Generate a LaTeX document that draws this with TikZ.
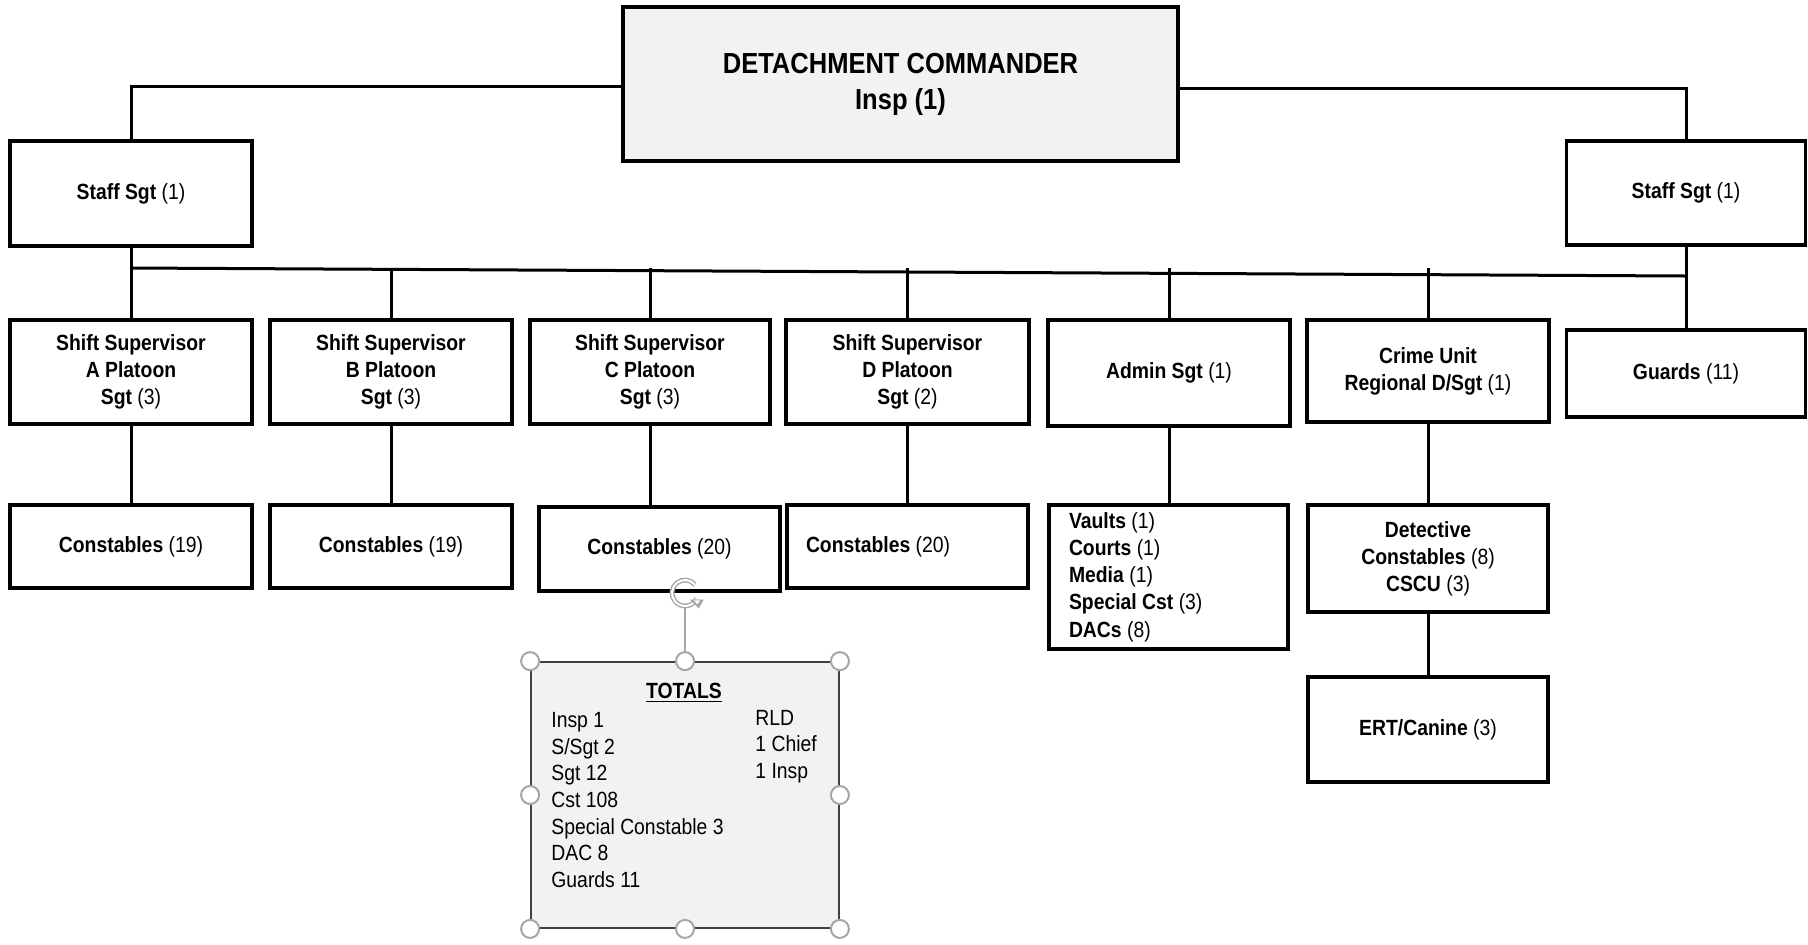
\documentclass[tikz,border=0pt]{standalone}
\usepackage{fontspec}
\setmainfont{Liberation Sans}[FakeStretch=0.88]
\usetikzlibrary{arrows.meta,calc}
\definecolor{dcfill}{HTML}{F2F2F2}
\definecolor{totfill}{HTML}{F2F2F2}
\definecolor{handlegray}{HTML}{A6A6A6}
\begin{document}
\begin{tikzpicture}[x=0.5pt,y=-0.5pt,
  box/.style={draw, line width=1.7pt, inner sep=0pt, align=center, font=\fontsize{11}{13.6}\selectfont},
  conn/.style={line width=1.5pt},
  handle/.style={circle, draw=handlegray, fill=white, line width=1pt, minimum size=9pt, inner sep=0pt},
  tottext/.style={inner sep=0pt, align=flush left, font=\fontsize{11}{13.35}\selectfont}]
\useasboundingbox (0,0) rectangle (1808,944);

% top
\node[box, fill=dcfill, line width=1.9pt, minimum width=277.5pt, minimum height=77pt,
      font=\bfseries\fontsize{14.5}{18}\selectfont] (dc) at (900.5,84) {\raisebox{-2pt}{\parbox{260pt}{\centering DETACHMENT COMMANDER\\Insp (1)}}};
\node[box, minimum width=121pt, minimum height=52.5pt] (ssl) at (131,193.5) {\textbf{Staff Sgt} (1)};
\node[box, minimum width=119.5pt, minimum height=52pt] (ssr) at (1686,193) {\textbf{Staff Sgt} (1)};

% second row
\node[box, minimum width=121pt, minimum height=52pt] (sa) at (131,372) {\textbf{Shift Supervisor}\\\textbf{A Platoon}\\\textbf{Sgt} (3)};
\node[box, minimum width=121pt, minimum height=52pt] (sb) at (391,372) {\textbf{Shift Supervisor}\\\textbf{B Platoon}\\\textbf{Sgt} (3)};
\node[box, minimum width=120pt, minimum height=52pt] (sc) at (650,372) {\textbf{Shift Supervisor}\\\textbf{C Platoon}\\\textbf{Sgt} (3)};
\node[box, minimum width=121.5pt, minimum height=52pt] (sd) at (907.5,372) {\textbf{Shift Supervisor}\\\textbf{D Platoon}\\\textbf{Sgt} (2)};
\node[box, minimum width=121pt, minimum height=53pt] (admin) at (1169,373) {\textbf{Admin Sgt} (1)};
\node[box, minimum width=121pt, minimum height=51pt] (crime) at (1428,371) {\textbf{Crime Unit}\\\textbf{Regional D/Sgt} (1)};
\node[box, minimum width=119.5pt, minimum height=43.5pt] (guards) at (1686,373.5) {\textbf{Guards} (11)};

% third row
\node[box, minimum width=121pt, minimum height=41.5pt] (ca) at (131,546.5) {\textbf{Constables} (19)};
\node[box, minimum width=121pt, minimum height=41.5pt] (cb) at (391,546.5) {\textbf{Constables} (19)};
\node[box, minimum width=120.5pt, minimum height=42pt] (cc) at (659.5,549) {\textbf{Constables} (20)};
\node[box, minimum width=120.5pt, minimum height=41.5pt, text width=101.5pt, align=flush left] (cd) at (907.5,546.5) {\textbf{Constables} (20)};
\node[box, minimum width=119.5pt, minimum height=72pt, text width=99.5pt, align=flush left] (as) at (1168.5,577)
  {\textbf{Vaults} (1)\\\textbf{Courts} (1)\\\textbf{Media} (1)\\\textbf{Special Cst} (3)\\\textbf{DACs} (8)};
\node[box, minimum width=120pt, minimum height=53.5pt] (det) at (1428,558.5) {\textbf{Detective}\\\textbf{Constables} (8)\\\textbf{CSCU} (3)};
\node[box, minimum width=120pt, minimum height=52.5pt] (ert) at (1428,729.5) {\textbf{ERT/Canine} (3)};

% connectors
\coordinate (busL) at (131,268);
\coordinate (busR) at (1686,276);
\coordinate (dcl) at ($(dc.west)+(0,2)$);
\coordinate (dcr) at ($(dc.east)+(0,4)$);
\draw[conn] (dcl) -| (ssl.north);
\draw[conn] (dcr) -| (ssr.north);
\draw[conn] (ssl.south) -- (busL);
\draw[conn] (busL) -- (busR);
\draw[conn] (ssr.south) -- (guards.north);
\foreach \n in {sa,sb,sc,sd,admin,crime}
  \draw[conn] (\n.north) -- (\n.north |- busL);
\draw[conn] (sa.south) -- (ca.north);
\draw[conn] (sb.south) -- (cb.north);
\draw[conn] (sc.south) -- (sc.south |- cc.north);
\draw[conn] (sd.south) -- (sd.south |- cd.north);
\draw[conn] (admin.south) -- (admin.south |- as.north);
\draw[conn] (crime.south) -- (det.north);
\draw[conn] (det.south) -- (ert.north);

% totals text box (selected)
\node[draw=black!75, fill=totfill, line width=0.9pt, minimum width=154pt, minimum height=133pt, inner sep=0pt] (totals) at (685,795) {};
\node[inner sep=0pt, font=\fontsize{11}{13.35}\selectfont] (tt) at (684,693) {\underline{\textbf{TOTALS}}};
\node[tottext, anchor=west] (tl) at (551,800) {Insp 1\\S/Sgt 2\\Sgt 12\\Cst 108\\Special Constable 3\\DAC 8\\Guards 11};
\node[tottext, anchor=west] (tr) at (755,746.5) {RLD\\1 Chief\\1 Insp};

% selection handles
\coordinate (rot) at (685,593);
\coordinate (rotb) at (685,607);
\foreach \a [count=\i] in {north west,north,north east,west,east,south west,south,south east}
  \node[handle] (h\i) at (totals.\a) {};
\draw[handlegray, line width=1pt] (rotb) -- (h2.north);
\draw[handlegray, line width=2.4pt] (rot) ++(40:6.5pt) arc[start angle=40, end angle=335, radius=6.5pt];
\draw[white, line width=1pt] (rot) ++(40:6.5pt) arc[start angle=40, end angle=335, radius=6.5pt];
\fill[handlegray] (rot) ++(335:6.5pt) ++(-3.5pt,-0.5pt) -- ++(7pt,0pt) -- ++(-2.5pt,-4.5pt) -- cycle;
\fill[white] (rot) ++(335:6.5pt) ++(-1.6pt,-0.9pt) -- ++(3.2pt,0pt) -- ++(-1.2pt,-2pt) -- cycle;
\end{tikzpicture}
\end{document}
